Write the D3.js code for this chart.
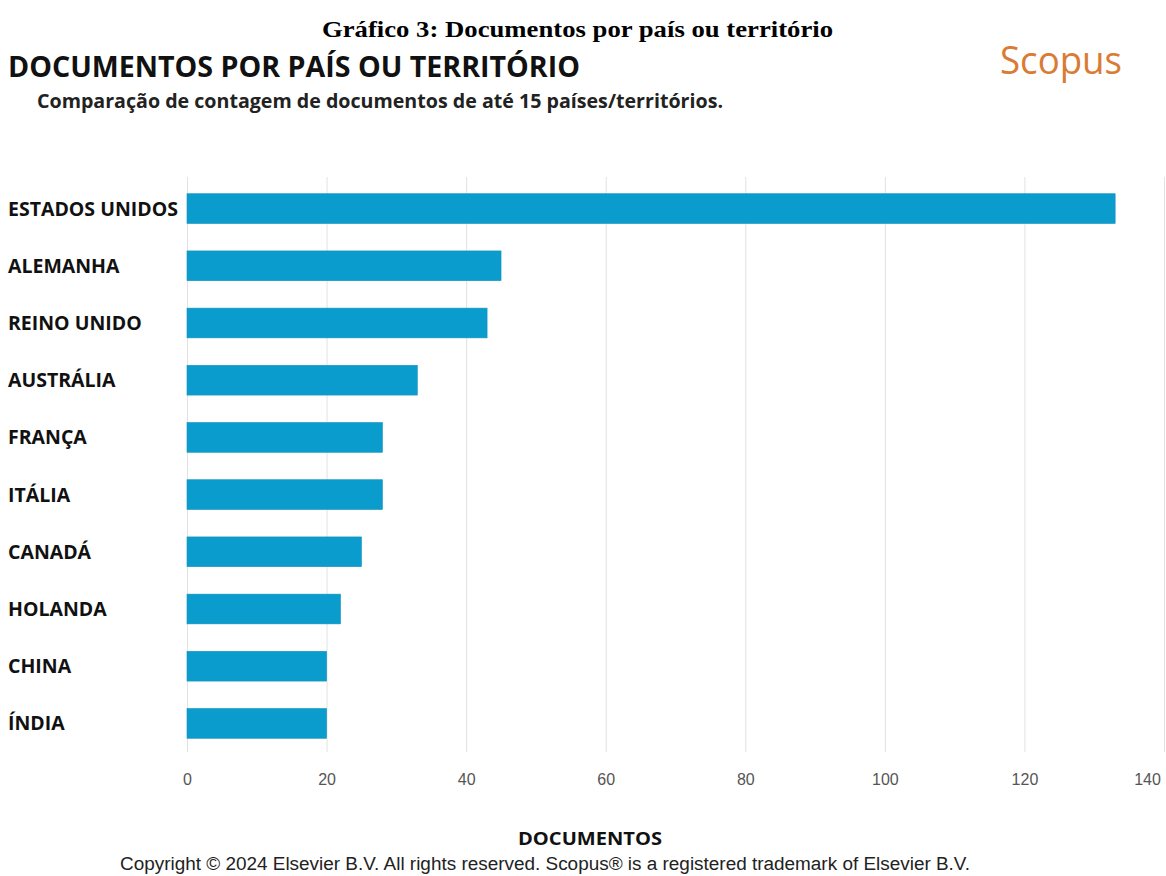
<!DOCTYPE html>
<html>
<head>
<meta charset="utf-8">
<script src="https://cdn.jsdelivr.net/npm/d3@7"></script>
<style>
  body { margin: 0; background: #fff; }
  svg { display: block; }
</style>
</head>
<body>
<svg></svg>
<script>
// data
const countries = ["ESTADOS UNIDOS", "ALEMANHA", "REINO UNIDO", "AUSTRÁLIA", "FRANÇA",
                   "ITÁLIA", "CANADÁ", "HOLANDA", "CHINA", "ÍNDIA"];
const documents = [133, 45, 43, 33, 28, 28, 25, 22, 20, 20];
const xTicks = [0, 20, 40, 60, 80, 100, 120, 140];

const width = 1166, height = 876;
const svg = d3.select("svg").attr("width", width).attr("height", height);

const x = d3.scaleLinear().domain([0, 140]).range([187, 1164]);
const y = d3.scaleBand()
    .domain(countries)
    .range([180, 752])
    .paddingInner(0.48)
    .paddingOuter(0.24);

const data = countries.map((c, i) => ({ country: c, value: documents[i] }));

// caption above the chart
svg.append("text")
  .attr("x", 322).attr("y", 37)
  .attr("textLength", 511).attr("lengthAdjust", "spacingAndGlyphs")
  .style("font-family", "'Liberation Serif', 'Times New Roman', serif")
  .style("font-weight", "bold")
  .style("font-size", "23px")
  .text("Gráfico 3: Documentos por país ou território");

svg.append("text")
  .attr("x", 8).attr("y", 77)
  .attr("textLength", 572).attr("lengthAdjust", "spacingAndGlyphs")
  .style("font-family", "'Open Sans', sans-serif")
  .style("font-weight", "bold")
  .style("font-size", "29px")
  .style("fill", "#111")
  .text("DOCUMENTOS POR PAÍS OU TERRITÓRIO");

svg.append("text")
  .attr("x", 37).attr("y", 108)
  .attr("textLength", 686).attr("lengthAdjust", "spacingAndGlyphs")
  .style("font-family", "'Open Sans', sans-serif")
  .style("font-weight", "bold")
  .style("font-size", "19px")
  .style("fill", "#222")
  .text("Comparação de contagem de documentos de até 15 países/territórios.");

svg.append("text")
  .attr("x", 1000).attr("y", 74)
  .attr("textLength", 122).attr("lengthAdjust", "spacingAndGlyphs")
  .style("font-family", "'Open Sans', sans-serif")
  .style("font-size", "38px")
  .style("fill", "#d97b35")
  .text("Scopus");

// grid + axis labels
const x_axis = d3.axisBottom(x)
  .tickValues(xTicks)
  .tickSize(-(752 - 177))
  .tickPadding(22)
  .tickFormat(d3.format("d"));

const gx = svg.append("g")
  .attr("transform", `translate(0,752)`)
  .call(x_axis);
gx.select(".domain").remove();
gx.selectAll(".tick line").attr("stroke", "#e2e2e2").attr("stroke-width", 1);
gx.selectAll(".tick text")
  .style("font-family", "'Liberation Sans', Arial, sans-serif")
  .style("font-size", "16px")
  .style("fill", "#555");
gx.selectAll(".tick text").filter(d => d === 140).attr("dx", -17);

// bars
svg.append("g").selectAll("rect")
  .data(data)
  .join("rect")
  .attr("x", x(0))
  .attr("y", d => y(d.country))
  .attr("width", d => x(d.value) - x(0))
  .attr("height", y.bandwidth())
  .attr("fill", "#0a9ccd")
  .attr("stroke", "#1591bd")
  .attr("stroke-width", 0.6);

// category labels
svg.append("g").selectAll("text")
  .data(data)
  .join("text")
  .attr("x", 8)
  .attr("y", d => y(d.country) + y.bandwidth() / 2)
  .attr("dy", "0.36em")
  .style("font-family", "'Open Sans', sans-serif")
  .style("font-weight", "bold")
  .style("font-size", "19.5px")
  .style("fill", "#111")
  .text(d => d.country);

svg.append("text")
  .attr("x", 518).attr("y", 845)
  .attr("textLength", 144).attr("lengthAdjust", "spacingAndGlyphs")
  .style("font-family", "'Open Sans', sans-serif")
  .style("font-weight", "bold")
  .style("font-size", "18px")
  .style("fill", "#111")
  .text("DOCUMENTOS");

svg.append("text")
  .attr("x", 120).attr("y", 870)
  .attr("textLength", 850).attr("lengthAdjust", "spacingAndGlyphs")
  .style("font-family", "'Liberation Sans', Arial, sans-serif")
  .style("font-size", "18px")
  .style("fill", "#222")
  .text("Copyright © 2024 Elsevier B.V. All rights reserved. Scopus® is a registered trademark of Elsevier B.V.");
</script>
</body>
</html>
